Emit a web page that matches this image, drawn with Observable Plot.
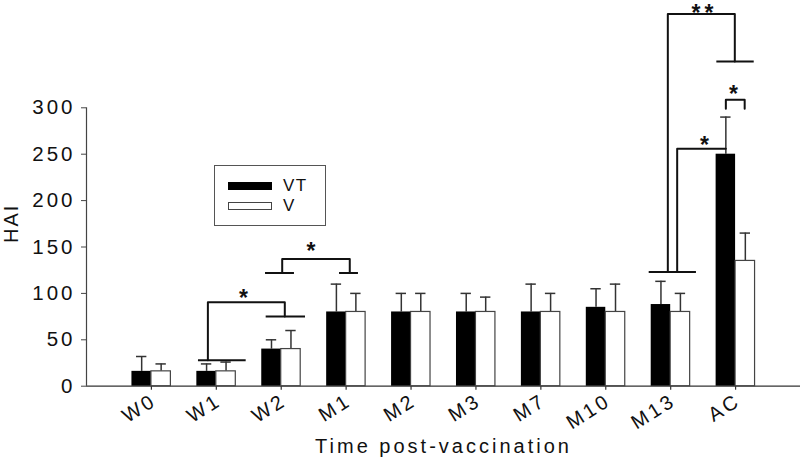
<!DOCTYPE html>
<html>
<head>
<meta charset="utf-8">
<script src="https://cdn.jsdelivr.net/npm/d3@7"></script>
<script src="https://cdn.jsdelivr.net/npm/@observablehq/plot@0.6"></script>
<style>
  html, body { margin: 0; padding: 0; background: #fff; }
  #wrap { position: relative; width: 800px; height: 460px; font-family: "Liberation Sans", Arial, sans-serif; }
  #wrap svg text { font-family: "Liberation Sans", Arial, sans-serif; }
  .ls3 text, text.ls3 { letter-spacing: 3px; }
  .ls2 text, text.ls2 { letter-spacing: 2px; }
  .star text { letter-spacing: 4px; }
  #legend { position: absolute; left: 214px; top: 165px; width: 112px; height: 61px; border: 1.5px solid #555; box-sizing: border-box; background: #fff; }
  .sw { position: absolute; left: 12.5px; width: 44px; height: 8px; box-sizing: border-box; }
  .lab { position: absolute; left: 68px; font-size: 17px; letter-spacing: 1.5px; line-height: 17px; color: #111; }
</style>
</head>
<body>
<div id="wrap"></div>
<script>
// ---- data ----
const categories = ["W0", "W1", "W2", "M1", "M2", "M3", "M7", "M10", "M13", "AC"];
const vtMean = [16, 16, 40, 80, 80, 80, 80, 85, 88, 250];
const vtUpper = [32, 24, 50, 110, 100, 100, 110, 105, 113, 290];
const vMean = [16, 16, 40, 80, 80, 80, 80, 80, 80, 135];
const vUpper = [24, 26, 60, 100, 100, 96, 100, 110, 100, 165];
const yTicks = [0, 50, 100, 150, 200, 250, 300];

// significance brackets (x in category-index units, y in HAI units)
const bracketPaths = [
  {id: "w1w2", pts: [[0.87, 28], [0.87, 90.5], [2.055, 90.5], [2.055, 75]]},
  {id: "w2m1", pts: [[2.015, 122], [2.015, 137], [3.056, 137], [3.056, 122]]},
  {id: "m13acVT", pts: [[8.1, 123], [8.1, 256], [8.85, 256]]},
  {id: "m13ac", pts: [[7.956, 123], [7.956, 401], [8.988, 401], [8.988, 350]]},
  {id: "acVTV", pts: [[8.85, 299], [8.85, 308.6], [9.14, 308.6], [9.14, 299]]}
];
const bracketBases = [
  {x1: 0.725, x2: 1.46, y: 28},
  {x1: 1.768, x2: 2.374, y: 75},
  {x1: 1.758, x2: 2.204, y: 122},
  {x1: 2.898, x2: 3.19, y: 122},
  {x1: 7.669, x2: 8.397, y: 123},
  {x1: 8.711, x2: 9.287, y: 350}
];
const stars = [
  {x: 1.45, y: 100, text: "*"},
  {x: 2.49, y: 151, text: "*"},
  {x: 8.55, y: 265, text: "*"},
  {x: 8.52, y: 408, text: "**"},
  {x: 9.0, y: 320, text: "*"}
];

// ---- build tables ----
const data = categories.map((c, i) => ({i, c, vt: vtMean[i], vtU: vtUpper[i], v: vMean[i], vU: vUpper[i]}));
const bracketPts = bracketPaths.flatMap(b => b.pts.map(([x, y]) => ({id: b.id, x, y})));

const half = 0.3;      // bar width in category units
const cap = 0.08;      // half cap width

const chart = Plot.plot({
  width: 800,
  height: 460,
  marginLeft: 86,
  marginRight: 0,
  marginTop: 107.3,
  marginBottom: 74.3,
  x: {type: "linear", domain: [-1, 10], axis: null},
  y: {domain: [0, 300], axis: null},
  marks: [
    // y axis
    Plot.ruleX([-1], {y1: 0, y2: 300, stroke: "#444", strokeWidth: 1.2}),
    Plot.axisY({ticks: yTicks, tickSize: 5, tickPadding: 6, fontSize: 20.5, stroke: "#444", color: "#111", className: "ls3", tickFormat: d => String(d)}),
    // x axis
    Plot.ruleY([0], {x1: -1, x2: 10, stroke: "#333", strokeWidth: 1.2}),
    Plot.ruleX(data, {x: "i", y1: 0, y2: 0, insetBottom: -4, stroke: "#333", strokeWidth: 1.2}),
    Plot.text(data, {x: "i", y: 0, text: "c", rotate: -32, textAnchor: "end", lineAnchor: "top", dx: -1, dy: 6, fontSize: 20, fill: "#111", className: "ls3"}),
    // error bars
    Plot.ruleX(data, {x: d => d.i - half / 2, y1: "vt", y2: "vtU", stroke: "#333", strokeWidth: 1.5}),
    Plot.ruleY(data, {y: "vtU", x1: d => d.i - half / 2 - cap, x2: d => d.i - half / 2 + cap, stroke: "#333", strokeWidth: 1.5}),
    Plot.ruleX(data, {x: d => d.i + half / 2, y1: "v", y2: "vU", stroke: "#333", strokeWidth: 1.5}),
    Plot.ruleY(data, {y: "vU", x1: d => d.i + half / 2 - cap, x2: d => d.i + half / 2 + cap, stroke: "#333", strokeWidth: 1.5}),
    // bars
    Plot.rectY(data, {x1: d => d.i - half, x2: d => d.i, y1: 0, y2: "vt", fill: "#000"}),
    Plot.rectY(data, {x1: d => d.i, x2: d => d.i + half, y1: 0, y2: "v", fill: "#fff", stroke: "#444", strokeWidth: 1.2}),
    // brackets
    Plot.line(bracketPts, {x: "x", y: "y", z: "id", stroke: "#111", strokeWidth: 2, curve: "linear"}),
    Plot.ruleY(bracketBases, {x1: "x1", x2: "x2", y: "y", stroke: "#111", strokeWidth: 2}),
    Plot.text(stars, {x: "x", y: "y", text: "text", fontSize: 23, fontWeight: "bold", lineAnchor: "bottom", dy: 13, fill: "#111", className: "star"}),
    // axis titles
    Plot.text(["HAI"], {frameAnchor: "left", dx: -69, dy: -4, rotate: -90, lineAnchor: "bottom", fontSize: 20, fill: "#111", className: "ls2"}),
    Plot.text(["Time post-vaccination"], {frameAnchor: "bottom", dy: 67, lineAnchor: "bottom", fontSize: 20, fill: "#111", className: "ls3"})
  ]
});

const wrap = document.getElementById("wrap");
wrap.appendChild(chart);

// legend (inside the plot area)
const legend = document.createElement("div");
legend.id = "legend";
const series = [
  {label: "VT", fill: "#000", stroke: "#000", top: 16},
  {label: "V", fill: "#fff", stroke: "#444", top: 36}
];
for (const s of series) {
  const sw = document.createElement("div");
  sw.className = "sw";
  sw.style.top = s.top + "px";
  sw.style.background = s.fill;
  sw.style.border = "1.2px solid " + s.stroke;
  legend.appendChild(sw);
  const lb = document.createElement("div");
  lb.className = "lab";
  lb.style.top = (s.top - 5) + "px";
  lb.textContent = s.label;
  legend.appendChild(lb);
}
wrap.appendChild(legend);
</script>
</body>
</html>
